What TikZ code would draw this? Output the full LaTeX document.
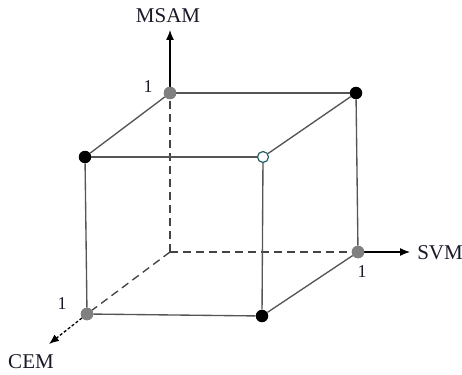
\documentclass[tikz,border=0pt]{standalone}
\usepackage{fontspec}
\setmainfont{Liberation Serif}
\usetikzlibrary{arrows.meta}
\definecolor{ink}{RGB}{25,25,40}
\definecolor{edge}{RGB}{85,85,85}
\definecolor{dotgray}{RGB}{128,128,128}
\definecolor{ring}{RGB}{35,95,100}
\tikzset{
  cube/.style={
    x=1pt,y=-1pt,
    pt/.style={circle,inner sep=0pt,minimum size=12.5pt},
    axdot/.style={pt,fill=dotgray},
    vdot/.style={pt,fill=black},
    odot/.style={pt,fill=white,draw=ring,line width=1.2pt,minimum size=11pt},
    ed/.style={draw=edge,line width=1.35pt},
    hid/.style={draw=edge!80!black,line width=1.35pt,dash pattern=on 8pt off 5pt},
    ax/.style={-{Latex[length=10pt,width=8pt]},draw=black,line width=1.3pt},
    axlab/.style={font=\fontsize{21}{24}\selectfont,text=ink},
    one/.style={font=\fontsize{18}{21}\selectfont,text=ink}},
}

\begin{document}
\begin{tikzpicture}[cube]
    \useasboundingbox (0,0) rectangle (462,374);
    % corners of the cube
    \coordinate (o) at (170,252);
    \node[axdot] (m) at (170,93) {};
    \node[axdot] (s) at (358,252) {};
    \node[axdot] (c) at (87,314) {};
    \node[vdot] (ms) at (356,93) {};
    \node[vdot] (mc) at (85,157) {};
    \node[odot] (msc) at (263,157) {};
    \node[vdot] (sc) at (262,316) {};
    % hidden edges
    \draw[hid] (o) -- (m.south);
    \draw[hid] (o) -- (s.west);
    \draw[hid] (o) -- (c);
    % visible edges
    \draw[ed] (m) -- (ms); \draw[ed] (ms) -- (s);
    \draw[ed] (m) -- (mc); \draw[ed] (mc) -- (msc); \draw[ed] (msc) -- (ms);
    \draw[ed] (mc) -- (c); \draw[ed] (msc) -- (sc);
    \draw[ed] (c) -- (sc); \draw[ed] (sc) -- (s);
    % axes
    \coordinate (mend) at (170,30);
    \coordinate (send) at (410,252);
    \coordinate (cend) at (49,344);
    \draw[ax] (m) -- (mend);
    \draw[ax] (s) -- (send);
    \draw[ax,dash pattern=on 3pt off 2pt] (c) -- (cend);
    \node[axlab] (lm) at (168,16) {MSAM};
    \node[axlab] (ls) at (440,253) {SVM};
    \node[axlab] (lc) at (31,362) {CEM};
    \node[one] (um) at (148,87) {1};
    \node[one] (us) at (362,272) {1};
    \node[one] (uc) at (62,304) {1};
    % redraw dots on top
    \node[axdot] at (m) {}; \node[axdot] at (s) {}; \node[axdot] at (c) {};
\end{tikzpicture}
\end{document}
